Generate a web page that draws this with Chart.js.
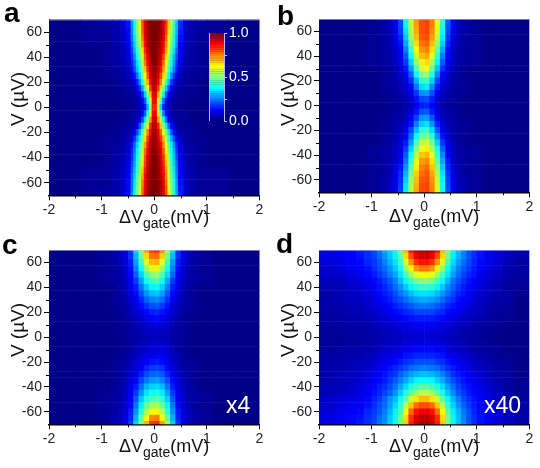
<!DOCTYPE html>
<html>
<head>
<meta charset="utf-8">
<script src="https://cdn.jsdelivr.net/npm/chart.js@4"></script>
<style>
html, body { margin: 0; padding: 0; background: #fff; }
#page { position: relative; width: 540px; height: 468px; overflow: hidden; font-family: "Liberation Sans", Arial, sans-serif; color: #111; }
canvas { position: absolute; }
.panelLetter { position: absolute; font-weight: bold; font-size: 28px; line-height: 1; color: #000; }
.xTitle { position: absolute; font-size: 18px; line-height: 1; white-space: nowrap; }
.xTitle span { font-size: 14px; position: relative; top: 5px; }
.yTitle { position: absolute; font-size: 19px; line-height: 1; white-space: nowrap; transform: translate(-50%, -50%) rotate(-90deg); }
.gain { position: absolute; font-size: 23px; line-height: 1; color: #fff; }
</style>
</head>
<body>
<div id="page">
    <canvas id="chartA" width="270" height="234" style="left:0;top:0"></canvas>
    <canvas id="chartB" width="270" height="234" style="left:270px;top:0"></canvas>
    <canvas id="chartC" width="270" height="234" style="left:0;top:234px"></canvas>
    <canvas id="chartD" width="270" height="234" style="left:270px;top:234px"></canvas>
    <canvas id="colorBar" width="65" height="110" style="left:195px;top:22px"></canvas>
    <div class="panelLetter" style="left:4px;top:-1px">a</div>
    <div class="panelLetter" style="left:277px;top:2px">b</div>
    <div class="panelLetter" style="left:2px;top:231px">c</div>
    <div class="panelLetter" style="left:276px;top:230px">d</div>
    <div class="xTitle" style="left:119px;top:208px">ΔV<span>gate</span>(mV)</div>
    <div class="xTitle" style="left:389px;top:207px">ΔV<span>gate</span>(mV)</div>
    <div class="xTitle" style="left:119px;top:437px">ΔV<span>gate</span>(mV)</div>
    <div class="xTitle" style="left:389px;top:437px">ΔV<span>gate</span>(mV)</div>
    <div class="yTitle" style="left:17px;top:99px">V (µV)</div>
    <div class="yTitle" style="left:287px;top:99px">V (µV)</div>
    <div class="yTitle" style="left:17px;top:330px">V (µV)</div>
    <div class="yTitle" style="left:287px;top:330px">V (µV)</div>
    <div class="gain" style="left:226px;top:394px">x4</div>
    <div class="gain" style="left:484px;top:394px">x40</div>
</div>
<script>
var voltageRows = [70, 65, 60, 55, 50, 45, 40, 35, 30, 25, 20, 15, 10, 5, 0, -5, -10, -15, -20, -25, -30, -35, -40, -45, -50, -55, -60, -65, -70];
var voltageTicks = [-60, -40, -20, 0, 20, 40, 60];
var minorGateTicks = [-1.5, -0.5, 0.5, 1.5];
var minorVoltageTicks = [-50, -30, -10, 10, 30, 50];
var colorBarLevels = [0, 2.5, 5, 7.5, 10, 12.5, 15, 17.5, 20, 22.5, 25, 27.5, 30, 32.5, 35, 37.5, 40, 42.5, 45, 47.5, 50, 52.5, 55, 57.5, 60, 62.5, 65, 67.5, 70, 72.5, 75, 77.5, 80, 82.5, 85, 87.5, 90, 92.5, 95, 97.5, 100];

// column edges in mV, finer where the signal changes fast
var gateEdgesA = [-2, -1.4, -1, -0.8, -0.65, -0.55, -0.45, -0.4, -0.35, -0.3, -0.25, -0.2, -0.15, -0.1, -0.05, 0, 0.05, 0.1, 0.15, 0.2, 0.25, 0.3, 0.35, 0.4, 0.45, 0.55, 0.65, 0.8, 1, 1.4, 2];
var gateEdgesBC = [-2, -1.5, -1.1, -0.85, -0.7, -0.6, -0.5, -0.4, -0.3, -0.2, -0.1, 0, 0.1, 0.2, 0.3, 0.4, 0.5, 0.6, 0.7, 0.85, 1.1, 1.5, 2];
var gateEdgesD = [-2, -1.7, -1.5, -1.3, -1.15, -1, -0.9, -0.8, -0.7, -0.6, -0.5, -0.4, -0.3, -0.2, -0.1, 0, 0.1, 0.2, 0.3, 0.4, 0.5, 0.6, 0.7, 0.8, 0.9, 1, 1.15, 1.3, 1.5, 1.7, 2];

// normalised signal x100, one row per voltage
var valuesA = [
    [2,3,4,5,8,15,28,39,51,64,80,91,97,100,100,100,100,98,93,84,68,55,43,32,17,9,5,4,3,2],
    [2,3,4,5,8,14,27,38,50,63,79,91,97,100,100,100,100,97,92,83,67,54,42,31,16,8,5,4,3,2],
    [2,3,3,5,7,13,26,37,49,61,78,90,96,99,100,100,99,97,92,82,65,53,41,30,15,8,5,3,3,2],
    [2,3,3,5,7,12,25,35,47,59,75,89,95,99,100,100,99,96,91,79,63,51,39,28,14,7,5,3,3,2],
    [2,3,3,5,6,11,22,33,44,56,71,87,95,98,100,100,98,95,89,75,60,48,37,26,13,7,5,3,3,2],
    [2,2,3,4,6,10,19,30,41,53,66,84,93,97,100,100,97,94,86,70,57,45,34,23,12,6,4,3,2,2],
    [2,2,3,4,6,9,17,26,37,49,61,79,90,96,100,100,96,92,82,65,53,41,30,20,11,6,4,3,2,2],
    [2,2,3,4,5,8,15,23,34,45,57,75,88,95,99,100,95,90,78,61,49,38,27,17,10,5,4,3,2,2],
    [2,2,3,4,5,7,13,20,31,41,54,68,84,93,97,98,93,86,72,58,45,35,24,15,8,5,4,3,2,2],
    [2,2,3,3,4,6,9,14,23,34,48,62,79,91,96,97,91,81,66,52,38,27,17,11,6,4,3,3,2,2],
    [2,2,2,3,4,5,6,9,15,27,40,55,71,87,95,96,88,75,59,44,31,19,11,7,5,4,3,2,2,2],
    [2,2,2,3,3,4,5,6,10,17,29,44,62,81,93,94,83,66,48,33,19,12,7,5,4,3,3,2,2,2],
    [2,2,2,2,3,3,4,5,6,9,17,33,50,69,90,91,71,54,37,21,11,7,5,4,3,3,2,2,2,2],
    [2,2,2,2,3,3,3,4,5,7,11,21,40,61,87,88,63,44,25,13,8,5,4,3,3,3,2,2,2,2],
    [2,2,2,2,2,3,3,3,4,6,8,14,31,52,84,85,54,33,16,9,6,4,3,3,3,2,2,2,2,2],
    [2,2,2,2,3,3,3,4,5,7,11,22,41,62,88,89,64,45,26,13,8,5,4,3,3,3,2,2,2,2],
    [2,2,2,2,3,3,4,5,6,10,19,35,53,72,91,92,73,56,39,23,12,7,5,4,3,3,2,2,2,2],
    [2,2,2,3,3,4,5,6,11,20,33,48,65,83,94,94,85,68,51,36,22,13,8,5,4,3,3,2,2,2],
    [2,2,2,3,4,5,7,11,19,31,44,58,75,89,96,96,90,78,62,47,34,22,13,8,5,4,3,2,2,2],
    [2,2,3,3,4,6,10,17,27,38,51,66,82,92,97,97,92,83,69,54,41,30,19,12,7,4,3,3,2,2],
    [2,2,3,4,5,8,14,23,33,44,56,72,86,94,98,98,94,88,75,60,47,36,26,16,9,5,4,3,2,2],
    [2,2,3,4,5,8,16,25,36,47,59,77,89,95,99,100,95,91,80,63,50,39,29,18,10,5,4,3,2,2],
    [2,2,3,4,6,9,17,27,38,50,62,80,91,96,100,100,96,92,83,66,53,41,31,20,11,6,4,3,2,2],
    [2,2,3,4,6,10,19,29,40,52,65,82,92,97,100,100,97,93,85,69,55,43,33,22,12,6,4,3,2,2],
    [2,3,3,5,6,11,21,31,42,54,68,85,94,98,100,100,98,94,87,72,57,45,35,24,13,7,5,3,3,2],
    [2,3,3,5,7,12,23,33,44,56,71,87,95,98,100,100,98,95,89,75,59,47,36,25,13,7,5,3,3,2],
    [2,3,3,5,7,13,24,35,46,58,74,88,95,99,100,100,99,96,90,78,61,49,38,27,14,7,5,3,3,2],
    [2,3,4,5,8,13,25,36,47,60,76,89,96,99,100,100,99,96,91,80,63,50,39,28,15,8,5,3,3,2],
    [2,3,4,5,8,14,26,37,48,61,77,90,96,100,100,100,99,97,91,81,64,51,40,29,15,8,5,4,3,2]
];

var valuesB = [
    [2,2,3,5,7,11,20,38,58,73,80,81,75,62,42,22,12,7,5,3,2,2],
    [2,2,3,5,7,11,19,37,57,72,80,81,75,61,41,21,12,7,5,3,2,2],
    [2,2,3,5,6,10,18,35,55,71,80,81,74,59,39,20,11,6,5,3,2,2],
    [2,2,3,4,6,10,16,32,52,69,79,80,72,56,36,18,10,6,4,3,2,2],
    [2,2,3,4,6,9,14,29,48,66,76,78,69,52,33,16,9,6,4,3,2,2],
    [2,2,3,4,5,8,12,25,43,62,73,75,65,47,29,14,8,5,4,3,2,2],
    [2,2,3,4,5,7,11,21,38,57,69,71,60,42,25,13,7,5,4,3,2,2],
    [2,2,3,4,5,7,10,18,33,51,64,66,54,37,21,11,7,5,4,3,2,2],
    [2,2,2,3,4,6,9,14,28,45,59,61,48,32,17,10,6,4,3,2,2,2],
    [2,2,2,3,4,5,8,11,22,38,51,53,41,26,13,8,5,4,3,2,2,2],
    [2,2,2,3,4,5,7,9,17,30,42,44,33,20,11,7,5,4,3,2,2,2],
    [2,2,2,3,4,4,6,8,13,24,34,36,26,15,9,6,4,4,3,2,2,2],
    [2,2,2,3,3,4,5,7,10,18,26,27,20,11,7,5,4,3,3,2,2,2],
    [2,2,2,2,3,4,4,6,8,14,19,20,15,9,6,4,4,3,2,2,2,2],
    [2,2,2,2,3,3,4,5,7,11,15,16,12,8,5,4,3,3,2,2,2,2],
    [2,2,2,2,3,4,4,6,8,14,20,21,15,9,6,4,4,3,2,2,2,2],
    [2,2,2,3,3,4,5,7,11,19,27,28,21,12,7,5,4,3,3,2,2,2],
    [2,2,2,3,4,5,6,8,14,25,33,35,27,16,9,6,4,4,3,2,2,2],
    [2,2,2,3,4,5,7,10,19,31,41,43,34,21,11,7,5,4,3,2,2,2],
    [2,2,2,3,4,5,8,12,23,38,48,50,41,27,14,8,5,4,3,2,2,2],
    [2,2,2,3,4,6,9,15,28,45,56,58,48,33,18,10,6,4,3,2,2,2],
    [2,2,3,4,5,7,10,18,33,50,62,64,54,38,22,11,7,5,4,3,2,2],
    [2,2,3,4,5,7,11,21,38,56,68,70,60,43,26,13,7,5,4,3,2,2],
    [2,2,3,4,5,8,12,24,42,60,72,74,65,47,29,15,8,5,4,3,2,2],
    [2,2,3,4,6,9,14,27,46,64,75,77,68,51,32,16,9,6,4,3,2,2],
    [2,2,3,4,6,10,16,30,49,67,77,79,71,54,35,18,10,6,4,3,2,2],
    [2,2,3,5,6,10,17,33,52,69,79,80,73,57,37,19,11,6,5,3,2,2],
    [2,2,3,5,7,11,18,35,54,70,80,81,74,59,39,20,11,7,5,3,2,2],
    [2,2,3,5,7,11,19,36,55,71,80,81,75,60,40,21,12,7,5,3,2,2]
];

var valuesC = [
    [2,2,3,5,7,10,18,33,52,72,82,83,74,54,34,18,10,7,5,3,2,2],
    [2,2,3,5,6,10,17,30,48,66,76,77,67,49,31,17,10,6,5,3,2,2],
    [2,2,3,4,6,9,15,28,43,59,69,70,60,44,28,15,9,6,4,3,2,2],
    [2,2,3,4,5,8,14,25,38,52,60,61,53,39,25,14,8,5,4,3,2,2],
    [2,2,3,4,5,8,12,22,33,45,51,52,46,34,22,12,8,5,4,3,2,2],
    [2,2,3,4,5,7,11,18,28,38,44,45,39,29,18,11,7,5,4,3,2,2],
    [2,2,2,3,5,6,10,15,24,32,37,38,33,25,15,10,6,5,3,2,2,2],
    [2,2,2,3,4,6,9,13,20,27,31,32,28,21,13,9,6,4,3,2,2,2],
    [2,2,2,3,4,5,8,11,16,22,25,26,23,17,11,8,5,4,3,2,2,2],
    [2,2,2,3,4,5,7,9,13,17,20,21,18,14,9,7,5,4,3,2,2,2],
    [2,2,2,3,3,4,6,8,10,13,15,16,14,11,8,6,4,3,3,2,2,2],
    [2,2,2,2,3,4,5,7,8,10,12,13,11,9,7,5,4,3,2,2,2,2],
    [2,2,2,2,3,3,4,6,7,8,9,10,9,8,6,4,3,3,2,2,2,2],
    [2,2,2,2,3,3,4,5,6,7,7,8,7,7,5,4,3,3,2,2,2,2],
    [2,2,2,2,2,3,4,4,5,6,6,7,6,6,4,4,3,2,2,2,2,2],
    [2,2,2,2,3,3,4,5,6,7,8,8,8,7,5,4,3,3,2,2,2,2],
    [2,2,2,2,3,3,4,6,7,8,9,9,9,8,6,4,3,3,2,2,2,2],
    [2,2,2,2,3,4,5,7,8,10,11,12,11,9,7,5,4,3,2,2,2,2],
    [2,2,2,3,3,4,6,8,10,12,14,15,13,11,8,6,4,3,3,2,2,2],
    [2,2,2,3,4,5,7,9,12,16,18,19,17,13,9,7,5,4,3,2,2,2],
    [2,2,2,3,4,5,8,10,15,20,22,23,21,16,11,8,5,4,3,2,2,2],
    [2,2,2,3,4,6,9,12,19,24,27,28,25,20,13,9,6,4,3,2,2,2],
    [2,2,2,3,5,6,10,15,23,30,33,34,31,24,15,10,6,5,3,2,2,2],
    [2,2,3,4,5,7,11,18,27,35,39,40,36,28,18,11,7,5,4,3,2,2],
    [2,2,3,4,5,8,12,21,32,41,45,46,42,33,21,12,8,5,4,3,2,2],
    [2,2,3,4,5,8,13,24,36,47,53,54,48,37,24,13,8,5,4,3,2,2],
    [2,2,3,4,6,9,15,27,41,54,62,63,55,42,27,15,9,6,4,3,2,2],
    [2,2,3,5,6,10,16,30,46,62,74,75,63,47,30,16,10,6,5,3,2,2],
    [2,2,3,5,7,10,18,33,50,70,82,83,72,52,33,18,10,7,5,3,2,2]
];

var valuesD = [
    [10,11,13,15,17,20,24,29,33,38,50,70,86,94,96,96,94,86,70,50,37,31,26,21,17,14,12,9,7,5],
    [10,11,12,14,17,19,23,27,32,37,48,66,80,89,92,92,89,80,66,48,36,30,25,20,17,14,11,9,7,5],
    [9,10,12,13,16,18,21,25,30,35,44,59,73,83,86,86,83,73,59,44,34,28,23,19,16,13,11,8,6,4],
    [8,9,11,12,14,17,20,23,27,32,39,52,64,73,76,76,73,64,52,39,31,25,21,18,15,12,10,8,5,4],
    [8,8,10,11,13,15,18,21,25,29,35,44,53,60,63,63,60,53,44,35,28,23,19,16,14,11,9,7,5,4],
    [6,6,8,9,11,13,15,18,21,25,31,37,44,49,51,51,49,44,37,30,24,20,17,14,12,10,8,6,4,3],
    [6,6,8,8,10,12,14,16,19,23,27,32,37,41,42,42,41,37,32,26,22,18,15,13,11,9,7,6,4,3],
    [5,6,7,8,9,11,13,15,17,20,24,27,31,34,35,35,34,31,27,23,19,16,14,12,10,8,7,5,4,3],
    [5,6,7,7,8,10,12,13,15,18,20,23,26,28,29,29,28,26,23,19,17,14,12,11,9,7,6,5,4,2],
    [5,5,6,6,8,9,10,12,13,15,17,19,21,23,24,24,23,21,19,16,14,12,11,9,8,7,5,4,3,2],
    [4,5,6,6,7,8,9,10,12,13,14,16,17,19,19,19,19,17,16,13,12,11,9,8,7,6,5,4,3,2],
    [4,4,5,5,6,7,8,9,10,11,12,13,14,15,15,15,15,14,13,11,10,9,8,7,6,5,4,3,3,2],
    [4,4,5,5,5,6,7,7,8,9,10,10,11,12,12,12,12,11,10,9,8,7,6,6,5,4,4,3,2,2],
    [3,4,4,4,5,5,6,6,7,8,8,9,9,10,10,10,10,9,9,8,7,6,5,5,4,4,3,3,2,2],
    [3,3,4,4,4,5,5,6,6,7,7,8,8,8,9,9,8,8,8,7,6,5,5,4,4,3,3,2,2,2],
    [3,4,4,4,5,5,6,7,7,8,8,9,10,10,10,10,10,10,9,8,7,6,6,5,4,4,3,3,2,2],
    [4,4,5,5,5,6,7,8,8,9,10,11,12,13,13,13,13,12,11,9,8,7,7,6,5,4,4,3,2,2],
    [4,5,5,5,6,7,8,9,10,11,12,14,15,16,16,16,16,15,14,11,10,9,8,7,6,5,4,3,3,2],
    [5,5,6,6,7,8,9,11,12,13,15,17,18,20,20,20,20,18,17,14,12,11,10,8,7,6,5,4,3,2],
    [5,5,6,7,8,9,11,12,14,16,18,20,23,24,25,25,24,23,20,17,15,13,11,10,8,7,6,4,3,2],
    [5,6,7,7,9,11,12,14,16,18,22,25,28,30,31,31,30,28,25,21,17,15,13,11,10,8,6,5,4,2],
    [5,6,7,8,10,12,13,15,18,21,25,29,33,37,38,38,37,33,29,24,20,17,14,12,11,9,7,5,4,3],
    [6,6,8,9,11,13,15,17,20,24,29,34,40,44,46,46,44,40,34,28,23,19,16,14,12,10,8,6,4,3],
    [6,7,8,10,12,14,16,19,22,27,33,40,47,53,56,56,53,47,40,32,26,21,18,15,13,11,9,7,5,3],
    [8,9,10,11,13,16,18,22,27,31,38,47,57,65,69,69,65,57,47,37,30,25,20,17,14,12,10,7,5,4],
    [8,9,11,12,14,17,20,23,28,34,42,55,68,77,80,80,77,68,55,42,33,27,22,18,15,12,10,8,6,4],
    [9,10,12,13,16,18,21,25,30,37,46,62,77,86,89,89,86,77,62,46,36,30,24,20,16,13,11,8,6,5],
    [10,11,13,14,17,19,23,26,32,38,49,66,83,91,94,94,91,83,66,49,37,31,25,20,17,14,11,9,7,5],
    [10,11,13,15,17,20,24,27,33,39,50,68,85,93,96,96,93,85,68,50,38,31,26,21,17,14,12,9,7,5]
];

// blue to dark red colour scale of the plots
function jet(value) {
    var v = value / 100;
    var r = Math.min(1, Math.max(0, v < 0.875 ? (v - 0.375) * 4 : 1 - (v - 0.875) * 4));
    var g = Math.min(1, Math.max(0, v < 0.5 ? (v - 0.125) * 4 : (0.875 - v) * 4));
    var b = Math.min(1, Math.max(0, v < 0.125 ? 0.45 + v * 4.4 : (0.625 - v) * 4));
    return "rgb(" + Math.round(r * 255) + "," + Math.round(g * 255) + "," + Math.round(b * 255) + ")";
}

// each cell runs a hair past its right edge so no white seam shows between columns
function buildCells(edges, rows, values) {
    var cells = [];
    rows.forEach(function (row, i) {
        values[i].forEach(function (value, j) {
            cells.push({ y: row, x: [edges[j], edges[j + 1] + 0.015], value: value });
        });
    });
    return cells;
}

function fixedTicks(values) {
    return function (scale) {
        scale.ticks = values.map(function (v) { return { value: v }; });
    };
}

var minorTicks = {
    id: "minorTicks",
    afterDraw: function (chart) {
        var ctx = chart.ctx, area = chart.chartArea;
        ctx.save();
        ctx.strokeStyle = "#000";
        ctx.lineWidth = 1;
        ctx.beginPath();
        minorGateTicks.forEach(function (v) {
            var px = Math.round(chart.scales.x.getPixelForValue(v)) + 0.5;
            ctx.moveTo(px, area.bottom);
            ctx.lineTo(px, area.bottom + 3);
        });
        minorVoltageTicks.forEach(function (v) {
            var py = Math.round(chart.scales.y.getPixelForValue(v)) + 0.5;
            ctx.moveTo(area.left, py);
            ctx.lineTo(area.left - 3, py);
        });
        ctx.stroke();
        // pale line along the top of the frame
        ctx.strokeStyle = "rgba(190,190,235,0.6)";
        ctx.beginPath();
        ctx.moveTo(area.left, area.top + 0.5);
        ctx.lineTo(area.right, area.top + 0.5);
        ctx.stroke();
        ctx.restore();
    },
};

var colorBarEdge = {
    id: "colorBarEdge",
    afterDraw: function (chart) {
        var ctx = chart.ctx, area = chart.chartArea;
        ctx.save();
        ctx.strokeStyle = "#b8b8ee";
        ctx.beginPath();
        ctx.moveTo(area.left + 0.5, area.top);
        ctx.lineTo(area.left + 0.5, area.bottom);
        ctx.stroke();
        ctx.restore();
    },
};

function drawPanel(id, edges, values, pad, xHeight) {
    var cells = buildCells(edges, voltageRows, values);
    return new Chart(document.getElementById(id).getContext("2d"), {
        type: "bar",
        data: {
            datasets: [
                {
                    data: cells,
                    backgroundColor: cells.map(function (c) { return jet(c.value); }),
                    borderWidth: 0,
                    categoryPercentage: 1,
                    barPercentage: 1.08,
                },
            ],
        },
        plugins: [minorTicks],
        options: {
            indexAxis: "y",
            responsive: false,
            animation: false,
            layout: { padding: pad },
            plugins: { legend: { display: false }, tooltip: { enabled: false } },
            scales: {
                x: {
                    type: "linear",
                    min: -2,
                    max: 2,
                    afterFit: function (scale) { scale.height = xHeight; },
                    border: { color: "#000", width: 1.5 },
                    grid: { drawOnChartArea: false, tickLength: 5, tickColor: "#000" },
                    ticks: { stepSize: 1, padding: 1, maxRotation: 0, color: "#222", font: { family: "Liberation Sans", size: 14 } },
                },
                y: {
                    type: "linear",
                    min: -70,
                    max: 70,
                    offset: false,
                    afterBuildTicks: fixedTicks(voltageTicks),
                    afterFit: function (scale) { scale.width = 49; },
                    border: { color: "#000", width: 1 },
                    grid: { offset: false, drawOnChartArea: false, tickLength: 5, tickColor: "#000" },
                    ticks: { padding: 2, color: "#222", font: { family: "Liberation Sans", size: 14 } },
                },
            },
        },
    });
}

drawPanel("chartA", gateEdgesA, valuesA, { left: 0, right: 10.5, top: 19.5, bottom: 0 }, 38.7);
drawPanel("chartB", gateEdgesBC, valuesB, { left: 0, right: 10.7, top: 19, bottom: 0 }, 41.7);
drawPanel("chartC", gateEdgesBC, valuesC, { left: 0, right: 10.5, top: 16, bottom: 0 }, 43.7);
drawPanel("chartD", gateEdgesD, valuesD, { left: 0, right: 10.7, top: 16, bottom: 0 }, 43.7);

// colour bar inside panel a
var barCells = colorBarLevels.map(function (level) {
    return { y: level, x: [0, 1], value: level };
});
new Chart(document.getElementById("colorBar").getContext("2d"), {
    type: "bar",
    data: {
        datasets: [
            {
                data: barCells,
                backgroundColor: barCells.map(function (c) { return jet(c.value); }),
                borderWidth: 0,
                categoryPercentage: 1,
                barPercentage: 1.1,
            },
        ],
    },
    plugins: [colorBarEdge],
    options: {
        indexAxis: "y",
        responsive: false,
        animation: false,
        layout: { padding: { left: 14, right: 0, top: 11, bottom: 11 } },
        plugins: { legend: { display: false }, tooltip: { enabled: false } },
        scales: {
            x: { type: "linear", min: 0, max: 1, display: false },
            y: {
                type: "linear",
                position: "right",
                min: 0,
                max: 100,
                offset: false,
                afterFit: function (scale) { scale.width = 36; },
                border: { color: "#b8b8ee", width: 1 },
                grid: { offset: false, drawOnChartArea: false, tickLength: 3, tickColor: "#b8b8ee" },
                ticks: {
                    stepSize: 25,
                    padding: 2,
                    color: "#fff",
                    font: { family: "Liberation Sans", size: 14 },
                    callback: function (value) {
                        return value % 50 === 0 ? (value / 100).toFixed(1) : "";
                    },
                },
            },
        },
    },
});
</script>
</body>
</html>
